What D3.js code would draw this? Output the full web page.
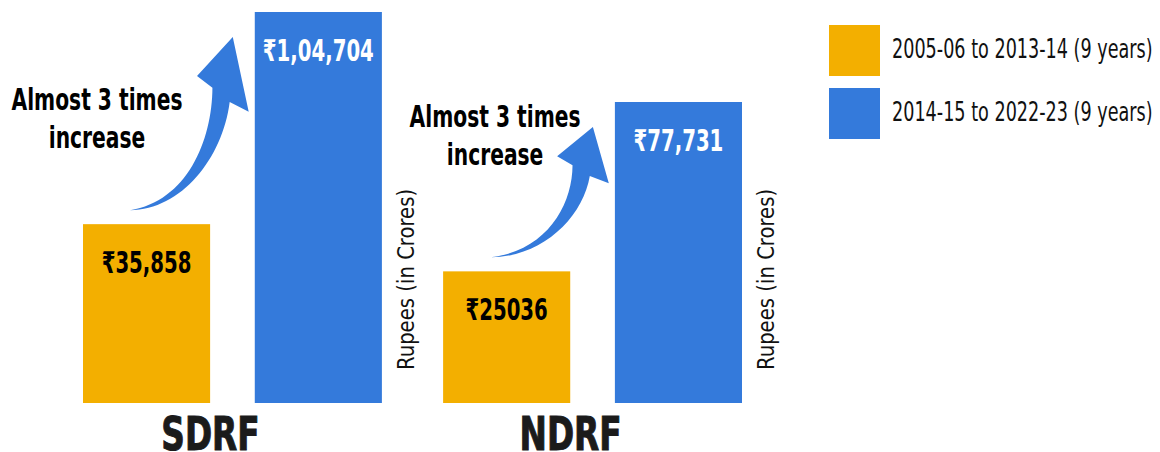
<!DOCTYPE html>
<html lang="en">
  <head>
    <meta charset="utf-8" />
    <title>SDRF and NDRF allocations</title>
    <script src="https://d3js.org/d3.v7.min.js"></script>
    <style>
      body {
        margin: 0;
        background: #fff;
      }
      svg {
        display: block;
        font-family: 'DejaVu Sans Condensed', 'DejaVu Sans', sans-serif;
      }
    </style>
  </head>
  <body>
    <div id="chart"></div>
    <script>
      /* ----------------------------- DATA ----------------------------- */
      const funds = ['SDRF', 'NDRF'];
      const periods = ['2005-06 to 2013-14 (9 years)', '2014-15 to 2022-23 (9 years)'];
      const oldValues = [35858, 25036];
      const newValues = [104704, 77731];
      const oldLabels = ['₹35,858', '₹25036'];
      const newLabels = ['₹1,04,704', '₹77,731'];
      const noteLines = ['Almost 3 times', 'increase'];
      const axisTitle = 'Rupees (in Crores)';

      /* ---------------------------- LAYOUT ---------------------------- */
      const W = 1160,
        H = 452,
        base = 403,
        panelTop = [12, 102], // each fund is its own little chart
        notePos = [
          [14, 110],
          [52, 127],
        ],
        colors = ['#F3AF00', '#347ADB'];

      const svg = d3
        .select('#chart')
        .append('svg')
        .attr('width', W)
        .attr('height', H);

      // squeeze a text node horizontally (the source font is a condensed one)
      function squeeze(sel, k) {
        sel.each(function () {
          const len = this.getComputedTextLength();
          d3.select(this)
            .attr('textLength', len * k)
            .attr('lengthAdjust', 'spacingAndGlyphs');
        });
      }

      /* ---------------------------- SCALES ---------------------------- */
      const x0 = d3.scaleBand().domain(funds).range([83, 742]).paddingInner(0.17);
      const x1 = d3
        .scaleBand()
        .domain(periods)
        .range([0, x0.bandwidth()])
        .paddingInner(0.26);

      const rows = funds.map((f, i) => ({
        fund: f,
        i,
        y: d3.scalePow().exponent(0.73).domain([0, newValues[i]]).range([base, panelTop[i]]),
        bars: [
          { period: periods[0], v: oldValues[i], label: oldLabels[i], c: 0 },
          { period: periods[1], v: newValues[i], label: newLabels[i], c: 1 },
        ],
      }));

      /* ----------------------------- BARS ----------------------------- */
      const panel = svg
        .selectAll('g.panel')
        .data(rows)
        .join('g')
        .attr('class', 'panel')
        .attr('transform', (d) => `translate(${x0(d.fund)},0)`);

      panel.each(function (row) {
        const g = d3.select(this);
        const y = row.y;

        g.selectAll('rect')
          .data(row.bars)
          .join('rect')
          .attr('x', (d) => x1(d.period))
          .attr('y', (d) => y(d.v))
          .attr('width', x1.bandwidth())
          .attr('height', (d) => base - y(d.v))
          .attr('fill', (d) => colors[d.c]);

        g.selectAll('text.val')
          .data(row.bars)
          .join('text')
          .attr('class', 'val')
          .attr('x', (d) => x1(d.period) + x1.bandwidth() / 2)
          .attr('y', (d) => y(d.v) + 49)
          .attr('text-anchor', 'middle')
          .attr('font-size', 30)
          .attr('font-weight', 'bold')
          .attr('fill', (d) => (d.c ? '#fff' : '#000'))
          .text((d) => d.label)
          .call(squeeze, 0.73);

        // curved "increase" arrow from the old bar up to the new one
        const a = row.bars[0],
          b = row.bars[1];
        const tx = x1(a.period) + 47,
          ty = y(a.v) - 14;
        const px = x1(b.period) - 22,
          py = y(b.v) + 25;
        const dx = px - tx,
          dy = ty - py;
        const P = (u, v) => [tx + u * dx, ty - v * dy];
        const p = d3.path();
        p.moveTo(...P(0, 0));
        p.bezierCurveTo(...P(0.5, 0), ...P(0.9, 0.3), ...P(0.97, 0.624));
        p.lineTo(...P(1.155, 0.568));
        p.lineTo(...P(1, 1));
        p.lineTo(...P(0.652, 0.775));
        p.lineTo(...P(0.802, 0.707));
        p.bezierCurveTo(...P(0.8, 0.4), ...P(0.55, 0.05), ...P(0, 0));
        p.closePath();
        g.append('path').attr('d', p.toString()).attr('fill', colors[1]);

        // annotation text
        const nx = notePos[row.i][0],
          ny = notePos[row.i][1];
        g.selectAll('text.note')
          .data(noteLines)
          .join('text')
          .attr('class', 'note')
          .attr('x', nx)
          .attr('y', (d, j) => ny + j * 38)
          .attr('text-anchor', 'middle')
          .attr('font-size', 30)
          .attr('font-weight', 'bold')
          .attr('fill', '#000')
          .text((d) => d)
          .call(squeeze, 0.75);

        // vertical axis title
        g.append('text')
          .attr('transform', `translate(${x0.bandwidth() + 32},370) rotate(-90)`)
          .attr('font-size', 23)
          .attr('fill', '#111')
          .text(axisTitle)
          .call(squeeze, 0.95);

        // fund name
        g.append('text')
          .attr('x', x0.bandwidth() / 2 - 22)
          .attr('y', 450)
          .attr('text-anchor', 'middle')
          .attr('font-size', 46)
          .attr('font-weight', 'bold')
          .attr('fill', '#1b1b1b')
          .attr('stroke', '#1b1b1b')
          .attr('stroke-width', 1)
          .text(row.fund)
          .call(squeeze, 0.79);
      });

      /* ---------------------------- LEGEND ---------------------------- */
      const legend = svg
        .append('g')
        .attr('transform', 'translate(829,25)')
        .selectAll('g')
        .data(periods)
        .join('g')
        .attr('transform', (d, i) => `translate(0,${i * 63})`);

      legend
        .append('rect')
        .attr('width', 51)
        .attr('height', 51)
        .attr('fill', (d, i) => colors[i]);

      legend
        .append('text')
        .attr('x', 63)
        .attr('y', 33)
        .attr('font-size', 27)
        .attr('fill', '#111')
        .text((d) => d)
        .call(squeeze, 0.725);
    </script>
  </body>
</html>
